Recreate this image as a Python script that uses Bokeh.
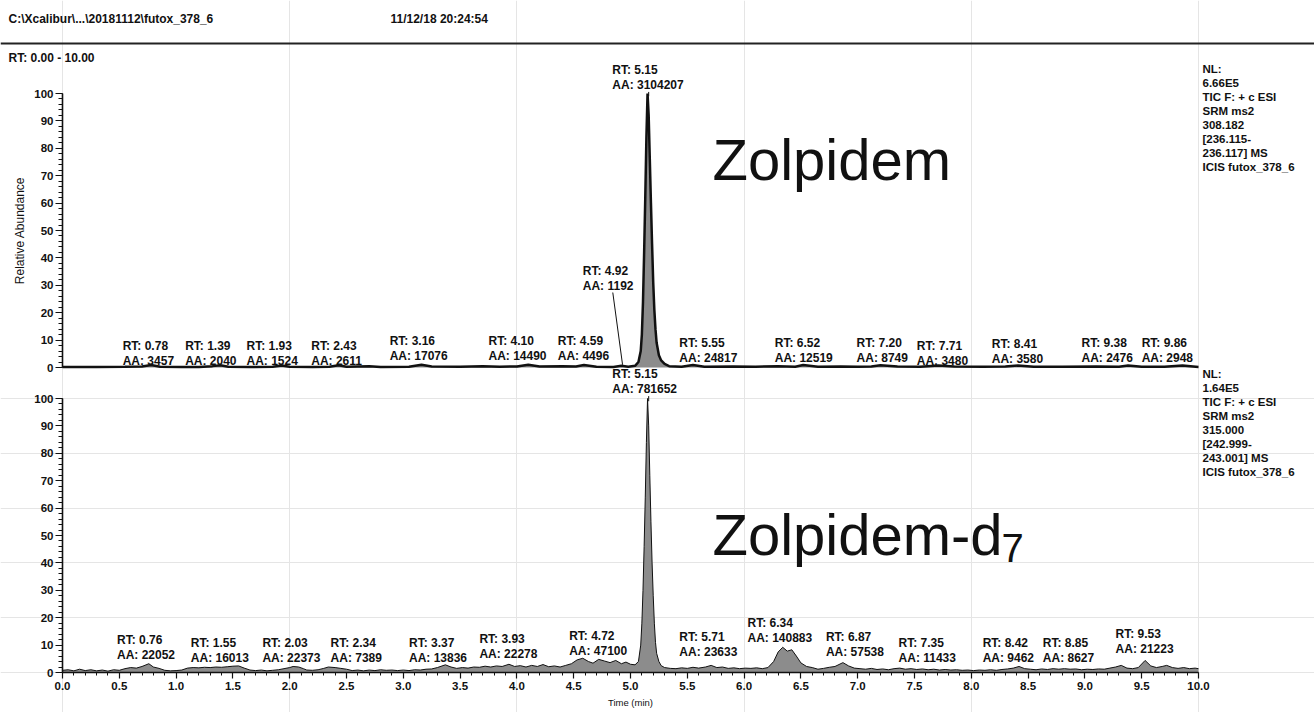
from bokeh.plotting import figure
from bokeh.models import (Range1d, LinearAxis, SingleIntervalTicker, NumeralTickFormatter,
                          ColumnDataSource, LabelSet, Label, Span)
from bokeh.embed import file_html
from bokeh.resources import INLINE
from bokeh.core.properties import value
import numpy as np

# ---------------- texts ----------------
header_path = "C:\\Xcalibur\\...\\20181112\\futox_378_6"
header_date = "11/12/18 20:24:54"
rt_range_text = "RT: 0.00 - 10.00"
y_title = "Relative Abundance"
x_title = "Time (min)"
top_name = "Zolpidem"
bot_name = "Zolpidem-d"
bot_sub = "7"
top_nl = ["NL:", "6.66E5", "TIC F: + c ESI", "SRM ms2", "308.182",
          "[236.115-", "236.117]  MS", "ICIS futox_378_6"]
bot_nl = ["NL:", "1.64E5", "TIC F: + c ESI", "SRM ms2", "315.000",
          "[242.999-", "243.001]  MS", "ICIS futox_378_6"]

# ---------------- top chromatogram (Zolpidem) ----------------
top_time = [0.00, 0.30, 0.55, 0.70, 0.78, 0.86, 1.05, 1.20, 1.32, 1.39, 1.46, 1.65,
            1.85, 1.93, 2.00, 2.20, 2.35, 2.43, 2.50, 2.70, 2.80, 3.05, 3.16, 3.25,
            3.50, 3.70, 3.85, 4.00, 4.10, 4.20, 4.40, 4.52, 4.59, 4.70, 4.85, 4.92,
            4.98, 5.04, 5.07, 5.09, 5.10, 5.11, 5.12, 5.13, 5.14, 5.15, 5.16, 5.17,
            5.18, 5.19, 5.20, 5.21, 5.22, 5.23, 5.25, 5.27, 5.30, 5.34, 5.45, 5.55,
            5.65, 5.90, 6.10, 6.30, 6.45, 6.52, 6.65, 6.85, 7.00, 7.12, 7.20, 7.35,
            7.55, 7.71, 7.85, 8.10, 8.30, 8.41, 8.55, 8.80, 9.10, 9.30, 9.38, 9.50,
            9.70, 9.86, 10.00]
top_val = [0.2, 0.2, 0.3, 0.4, 0.9, 0.3, 0.2, 0.2, 0.5, 0.8, 0.3, 0.2,
           0.3, 0.7, 0.3, 0.2, 0.3, 0.8, 0.3, 0.5, 0.2, 0.3, 1.0, 0.4,
           0.3, 0.5, 0.3, 0.4, 1.0, 0.4, 0.5, 0.4, 0.9, 0.3, 0.2, 0.6,
           0.3, 0.6, 2.0, 6.0, 12.0, 24.0, 42.0, 62.0, 84.0, 100.0, 92.0, 76.0,
           60.0, 45.0, 31.0, 21.0, 14.0, 9.0, 4.5, 2.6, 1.3, 0.5, 0.3, 0.9,
           0.3, 0.4, 0.3, 0.5, 0.3, 0.9, 0.3, 0.4, 0.3, 0.4, 0.8, 0.4,
           0.3, 0.7, 0.4, 0.3, 0.4, 0.7, 0.3, 0.3, 0.4, 0.3, 0.7, 0.3,
           0.3, 0.7, 0.2]
top_rt = [0.78, 1.39, 1.93, 2.43, 3.16, 4.10, 4.59, 4.92, 5.15, 5.55, 6.52, 7.20,
          7.71, 8.41, 9.38, 9.86]
top_aa = [3457, 2040, 1524, 2611, 17076, 14490, 4496, 1192, 3104207, 24817, 12519,
          8749, 3480, 3580, 2476, 2948]
# label anchors: left edge (min) and RT-row level (%)
top_label_x = [0.53, 1.08, 1.62, 2.19, 2.88, 3.75, 4.36, 4.58, 4.84, 5.43, 6.27, 6.99,
               7.52, 8.18, 8.97, 9.50]
top_label_y = [8.0, 8.0, 8.0, 8.0, 9.5, 9.5, 9.5, 35.4, 108.6, 8.9, 8.9, 8.9,
               8.0, 8.4, 8.8, 8.8]

# ---------------- bottom chromatogram (Zolpidem-d7) ----------------
bot_time = [0.00, 0.05, 0.10, 0.15, 0.20, 0.25, 0.30, 0.35, 0.40, 0.45,
            0.50, 0.55, 0.60, 0.65, 0.70, 0.76, 0.80, 0.85, 0.90, 0.95,
            1.00, 1.05, 1.10, 1.15, 1.20, 1.25, 1.30, 1.35, 1.40, 1.45,
            1.50, 1.55, 1.60, 1.65, 1.70, 1.75, 1.80, 1.85, 1.90, 1.95,
            2.00, 2.03, 2.08, 2.12, 2.15, 2.20, 2.25, 2.30, 2.34, 2.40,
            2.45, 2.50, 2.55, 2.60, 2.65, 2.70, 2.75, 2.80, 2.85, 2.90,
            2.95, 3.00, 3.05, 3.10, 3.15, 3.20, 3.25, 3.30, 3.37, 3.42,
            3.47, 3.52, 3.57, 3.62, 3.67, 3.72, 3.77, 3.82, 3.87, 3.93,
            3.98, 4.03, 4.08, 4.13, 4.18, 4.23, 4.28, 4.33, 4.38, 4.43,
            4.48, 4.53, 4.58, 4.63, 4.67, 4.72, 4.77, 4.82, 4.87, 4.92,
            4.96, 5.00, 5.04, 5.07, 5.09, 5.10, 5.11, 5.12, 5.13, 5.14,
            5.15, 5.16, 5.17, 5.18, 5.19, 5.20, 5.21, 5.22, 5.23, 5.25,
            5.27, 5.30, 5.35, 5.40, 5.45, 5.50, 5.55, 5.60, 5.66, 5.71,
            5.76, 5.81, 5.86, 5.91, 5.96, 6.01, 6.06, 6.11, 6.16, 6.21,
            6.26, 6.30, 6.34, 6.38, 6.42, 6.46, 6.50, 6.55, 6.60, 6.65,
            6.70, 6.75, 6.80, 6.87, 6.92, 6.97, 7.02, 7.07, 7.12, 7.17,
            7.22, 7.27, 7.32, 7.37, 7.42, 7.47, 7.52, 7.57, 7.62, 7.67,
            7.72, 7.77, 7.82, 7.87, 7.92, 7.97, 8.02, 8.07, 8.12, 8.17,
            8.22, 8.27, 8.32, 8.37, 8.42, 8.47, 8.52, 8.57, 8.62, 8.67,
            8.72, 8.77, 8.82, 8.87, 8.92, 8.97, 9.02, 9.07, 9.12, 9.17,
            9.22, 9.27, 9.32, 9.37, 9.42, 9.47, 9.53, 9.58, 9.63, 9.68,
            9.72, 9.77, 9.82, 9.87, 9.92, 9.97, 10.00]
bot_val = [0.8, 1.0, 0.6, 1.2, 0.7, 1.0, 0.6, 0.9, 0.5, 1.0,
           0.8, 1.4, 1.8, 1.6, 2.2, 3.2, 2.0, 1.5, 0.8, 0.6,
           0.7, 0.9, 1.6, 1.8, 1.7, 1.9, 1.8, 2.0, 1.9, 2.1,
           2.3, 2.4, 1.6, 0.9, 0.7, 0.9, 0.6, 0.8, 1.0, 1.4,
           1.8, 2.2, 2.0, 1.4, 0.9, 0.8, 1.0, 1.5, 2.0, 1.8,
           1.5, 1.2, 0.7, 0.9, 0.6, 0.9, 0.7, 1.0, 0.8, 0.9,
           0.7, 0.9, 0.7, 1.0, 0.9, 1.2, 1.3, 1.8, 2.8, 2.0,
           1.5, 1.8, 1.6, 2.0, 1.9, 2.3, 2.0, 2.4, 2.2, 3.0,
           2.2, 2.5, 2.0, 2.6, 2.2, 2.9, 2.1, 2.4, 2.0, 2.6,
           3.2, 4.6, 5.2, 4.0, 3.4, 4.8, 4.2, 3.6, 4.4, 3.2,
           3.8, 3.0, 2.8, 4.0, 10.0, 18.0, 30.0, 46.0, 64.0, 84.0,
           100.0, 90.0, 72.0, 55.0, 40.0, 28.0, 18.0, 11.0, 7.0, 4.0,
           2.5, 1.8, 1.5, 1.4, 1.7, 1.5, 1.9, 1.6, 2.0, 2.6,
           1.8, 2.0, 1.5, 1.7, 1.4, 1.6, 1.5, 1.7, 1.4, 1.8,
           4.0, 7.5, 9.2, 7.8, 8.3, 6.0, 3.5, 2.2, 1.8, 1.2,
           1.5, 1.9, 2.2, 3.6, 2.4, 1.6, 1.4, 1.2, 1.5, 1.1,
           1.3, 1.0, 1.4, 1.6, 1.2, 1.4, 1.1, 1.3, 1.0, 1.2,
           0.9, 1.1, 0.9, 1.0, 0.8, 0.9, 0.7, 0.9, 0.8, 1.0,
           0.8, 1.1, 1.3, 1.6, 2.2, 1.4, 1.2, 1.0, 1.3, 1.1,
           1.4, 1.2, 1.4, 1.2, 1.3, 1.0, 1.2, 1.1, 1.3, 1.2,
           1.6, 2.0, 2.6, 1.6, 1.4, 1.8, 4.4, 2.4, 1.8, 2.2,
           2.6, 1.8, 1.5, 1.8, 1.4, 1.6, 1.4]
bot_rt = [0.76, 1.55, 2.03, 2.34, 3.37, 3.93, 4.72, 5.15, 5.71, 6.34, 6.87, 7.35,
          8.42, 8.85, 9.53]
bot_aa = [22052, 16013, 22373, 7389, 13836, 22278, 47100, 781652, 23633, 140883,
          57538, 11433, 9462, 8627, 21223]
bot_label_x = [0.48, 1.13, 1.76, 2.36, 3.05, 3.67, 4.46, 4.84, 5.43, 6.03, 6.72, 7.36,
               8.10, 8.63, 9.27]
bot_label_y = [11.7, 10.6, 10.6, 10.6, 10.9, 12.4, 13.5, 108.9, 12.8, 17.9, 13.1, 10.9,
               10.9, 10.9, 13.9]

# ---------------- styling / geometry ----------------
FONT = "Liberation Sans"
INK = "#111111"
FILL = "#8c8c8c"
W, HGT = 1314, 712
AX_X = 62           # pixel column of time 0
BOT_ZERO = 672      # pixel row of 0 % (lower trace)
TOP_ZERO = 367      # pixel row of 0 % (upper trace)
PX_MIN = 113.6      # px per minute
PX_PCT = 2.74       # px per % abundance
LBL_SIZE = "12px"
ROW_GAP = 15
NL_GAP = 14


def X(px):
    return (px - AX_X) / PX_MIN


def YB(py):
    return (BOT_ZERO - py) / PX_PCT


def YT(py):
    return (TOP_ZERO - py) / PX_PCT


p = figure(width=W, height=HGT, x_range=Range1d(X(0), X(W)),
           y_range=Range1d(YB(HGT), YB(0)), x_axis_location=None,
           y_axis_location=None, min_border=0, output_backend="svg",
           toolbar_location=None)
p.extra_y_ranges = {"top": Range1d(YT(HGT), YT(0))}
p.outline_line_color = None
p.background_fill_color = "white"
p.border_fill_color = "white"


def style_axis(ax, tick_out, minor_out, size):
    ax.major_tick_out = tick_out
    ax.major_tick_in = 0
    ax.minor_tick_out = minor_out
    ax.minor_tick_in = 0
    ax.axis_line_width = 1.6
    ax.major_tick_line_width = 1.2
    ax.axis_line_color = INK
    ax.major_tick_line_color = INK
    ax.minor_tick_line_color = INK
    ax.major_label_text_font = FONT
    ax.major_label_text_font_size = size
    ax.major_label_text_font_style = "bold"
    ax.major_label_text_color = INK


def add_y_axis(range_name, label=None):
    ax = LinearAxis(y_range_name=range_name, fixed_location=0, bounds=(0, 100),
                    ticker=SingleIntervalTicker(interval=10, num_minor_ticks=5))
    style_axis(ax, 7, 4, "11.5px")
    ax.major_label_standoff = 2
    if label:
        ax.axis_label = label
        ax.axis_label_text_font = FONT
        ax.axis_label_text_font_size = "12px"
        ax.axis_label_text_font_style = "normal"
        ax.axis_label_text_color = INK
        ax.axis_label_standoff = 4
    p.add_layout(ax, "left")


add_y_axis("top", y_title)
add_y_axis("default")

xa = LinearAxis(fixed_location=0, bounds=(0, 10),
                ticker=SingleIntervalTicker(interval=0.5, num_minor_ticks=5),
                formatter=NumeralTickFormatter(format="0.0"))
style_axis(xa, 6, 3, "11.5px")
xa.major_label_standoff = 3
xa.axis_label = x_title
xa.axis_label_text_font = FONT
xa.axis_label_text_font_size = "9.5px"
xa.axis_label_text_font_style = "normal"
xa.axis_label_text_color = INK
xa.axis_label_standoff = 4
p.add_layout(xa, "below")


def add_labels(rts, aas, lx, ly, rng):
    src = ColumnDataSource(dict(
        x=lx, y=ly,
        rt=["RT: %.2f" % r for r in rts],
        aa=["AA: %d" % a for a in aas]))
    common = dict(source=src, x="x", y="y", y_range_name=rng,
                  text_font=value(FONT), text_font_size=value(LBL_SIZE),
                  text_font_style=value("bold"), text_color=INK,
                  text_align=value("left"), text_baseline=value("middle"))
    p.add_layout(LabelSet(text="rt", **common))
    p.add_layout(LabelSet(text="aa", y_offset=-ROW_GAP, **common))


def add_leaders(rts, lx, ly, times, vals, rng):
    x0, y0, x1, y1 = [], [], [], []
    for r, xx, yy in zip(rts, lx, ly):
        peak = float(np.interp(r, times, vals))
        bottom = yy - (ROW_GAP + 7) / PX_PCT
        if yy > 100:
            x0.append(r + 0.01); x1.append(r + 0.01)
            y0.append(bottom); y1.append(peak - 1.0)
        elif yy > 20:
            x0.append(xx + 30 / PX_MIN); x1.append(r + 0.01)
            y0.append(bottom); y1.append(peak + 0.4)
    if x0:
        p.segment(x0=x0, y0=y0, x1=x1, y1=y1, y_range_name=rng,
                  line_color=INK, line_width=1)


def add_text(x, y, text, size, style="normal", rng="default", **kw):
    p.add_layout(Label(x=x, y=y, text=text, y_range_name=rng, text_font=FONT,
                       text_font_size=size, text_font_style=style,
                       text_color=INK, text_align="left",
                       text_baseline=kw.pop("baseline", "middle"), **kw))


def add_block(lines, x, y, rng):
    for i, t in enumerate(lines):
        add_text(x, y, t, "11.5px", "bold", rng, y_offset=-NL_GAP * i)


# header
add_text(X(8), YB(18), header_path, "12px", "bold")
add_text(X(390), YB(18), header_date, "12px", "bold")
p.add_layout(Span(location=YB(43), dimension="width", line_color="#222222",
                  line_width=2))
add_text(X(8), YB(57), rt_range_text, "12px", "bold")

# upper trace
p.varea(x=top_time, y1=0, y2=top_val, fill_color=FILL, y_range_name="top")
p.line(top_time, top_val, line_color=INK, line_width=2.5, y_range_name="top")
add_labels(top_rt, top_aa, top_label_x, top_label_y, "top")
add_leaders(top_rt, top_label_x, top_label_y, top_time, top_val, "top")
add_block(top_nl, X(1202), YT(68.5), "top")
add_text(X(712), YT(159), top_name, "58px", rng="top", baseline="alphabetic")

# lower trace
p.varea(x=bot_time, y1=0, y2=bot_val, fill_color=FILL)
p.line(bot_time, bot_val, line_color=INK, line_width=1)
add_labels(bot_rt, bot_aa, bot_label_x, bot_label_y, "default")
add_leaders(bot_rt, bot_label_x, bot_label_y, bot_time, bot_val, "default")
add_block(bot_nl, X(1202), YB(373), "default")
add_text(X(712), YB(534), bot_name, "58px", baseline="alphabetic")
add_text(X(712), YB(534), bot_sub, "40px", baseline="alphabetic",
         x_offset=289, y_offset=-13)

open("out.html", "w").write(file_html(p, INLINE))
